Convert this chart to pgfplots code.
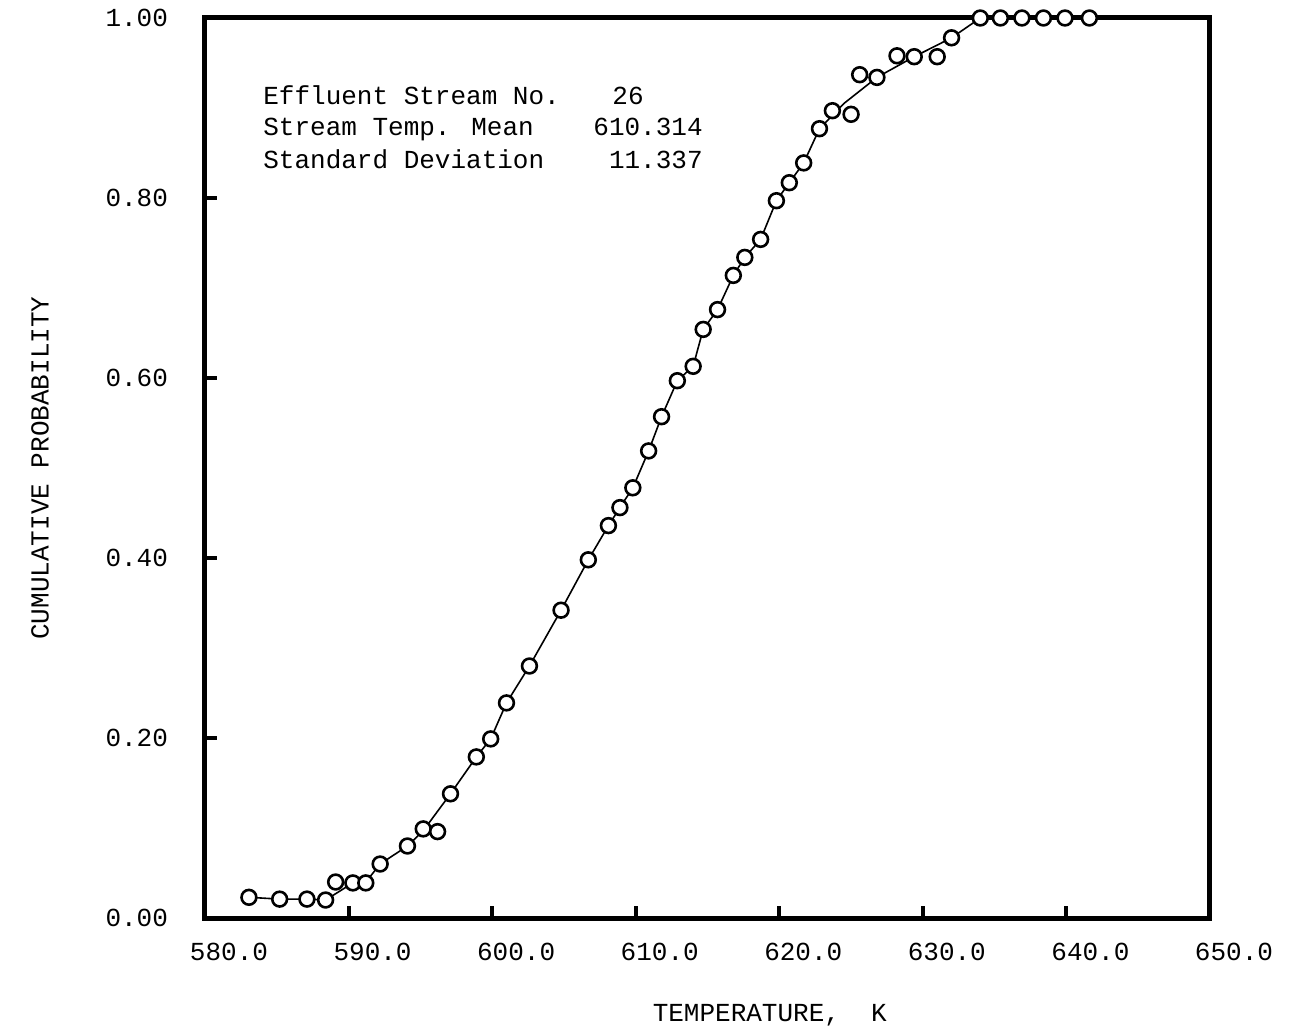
\documentclass[border=0pt]{standalone}
\usepackage{fontspec}
\setmainfont{Liberation Mono}
\usepackage{pgfplots}
\pgfplotsset{compat=1.18}
\begin{document}
\begin{tikzpicture}[x=1pt,y=1pt]
\useasboundingbox (-102.5pt,-56pt) rectangle (543pt,459pt);
\begin{axis}[
  at={(0,0)}, anchor=south west,
  scale only axis, width=502.5pt, height=450pt,
  xmin=580, xmax=650, ymin=0, ymax=1,
  xtick={580,590,...,650}, ytick={0,0.2,0.4,0.6,0.8,1.0},
  tick pos=left, tick align=inside,
  major tick length=6pt,
  tick style={line width=2pt, black},
  axis line style={line width=2.5pt},
  /pgf/number format/assume math mode=true,
  xticklabel style={xshift=12pt, /pgf/number format/.cd, fixed, fixed zerofill, precision=1},
  yticklabel style={/pgf/number format/.cd, fixed, fixed zerofill, precision=2},
  ticklabel style={font=\fontsize{13}{15}\selectfont},
  xticklabel shift=9pt, yticklabel shift=15pt,
  clip=false,
]
\addplot[black, line width=0.8pt, mark=none] coordinates {
(583.06,0.023) (585.2,0.021) (587.1,0.021) (588.4,0.020) (590.3,0.039) (591.2,0.040)
(592.2,0.060) (594.1,0.080) (595.2,0.097) (597.1,0.138) (598.9,0.179) (599.9,0.199)
(601.0,0.239) (602.6,0.280) (604.8,0.342) (606.7,0.398) (608.1,0.436) (608.9,0.456)
(609.8,0.478) (610.9,0.519) (611.8,0.557) (612.9,0.597) (614.0,0.613) (614.7,0.654)
(615.7,0.676) (616.8,0.714) (617.6,0.734) (618.7,0.754) (619.8,0.797) (620.7,0.817)
(621.7,0.839) (622.8,0.877) (624.5,0.905) (626.8,0.934) (629.4,0.957) (632.0,0.978)
(634.0,1.0) (641.6,1.0)
};
\addplot[only marks, mark=*, mark size=3.7pt, mark options={fill=white, draw=black, line width=1.3pt}] coordinates {
(583.06,0.023) (585.2,0.021) (587.1,0.021) (588.4,0.020) (589.1,0.040) (590.3,0.039)
(591.2,0.039) (592.2,0.060) (594.1,0.080) (595.2,0.099) (596.2,0.096) (597.1,0.138)
(598.9,0.179) (599.9,0.199) (601.0,0.239) (602.6,0.280) (604.8,0.342) (606.7,0.398)
(608.1,0.436) (608.9,0.456) (609.8,0.478) (610.9,0.519) (611.8,0.557) (612.9,0.597)
(614.0,0.613) (614.7,0.654) (615.7,0.676) (616.8,0.714) (617.6,0.734) (618.7,0.754)
(619.8,0.797) (620.7,0.817) (621.7,0.839) (622.8,0.877) (623.7,0.897) (625.0,0.893)
(625.6,0.937) (626.8,0.934) (628.2,0.958) (629.4,0.957) (631.0,0.957) (632.0,0.978)
(634.0,1.0) (635.4,1.0) (636.9,1.0) (638.4,1.0) (639.9,1.0) (641.6,1.0)
};
\node[anchor=base west, font=\fontsize{13}{15}\selectfont, inner sep=0pt] at (axis cs:584.04,0.904) {Effluent Stream No.};
\node[anchor=base west, font=\fontsize{13}{15}\selectfont, inner sep=0pt] at (axis cs:584.04,0.869) {Stream Temp. Mean};
\node[anchor=base west, font=\fontsize{13}{15}\selectfont, inner sep=0pt] at (axis cs:584.04,0.833) {Standard Deviation};
\node[anchor=base west, font=\fontsize{13}{15}\selectfont, inner sep=0pt] at (axis cs:608.35,0.904) {26};
\node[anchor=base east, font=\fontsize{13}{15}\selectfont, inner sep=0pt] at (axis cs:614.69,0.869) {610.314};
\node[anchor=base east, font=\fontsize{13}{15}\selectfont, inner sep=0pt] at (axis cs:614.69,0.833) {11.337};
\node[rotate=90, anchor=center, font=\fontsize{13}{15}\selectfont] at ([xshift=-82.5pt]rel axis cs:0,0.5) {CUMULATIVE PROBABILITY};
\node[anchor=center, font=\fontsize{13}{15}\selectfont] at ([yshift=-48.5pt]rel axis cs:0.562,0) {TEMPERATURE,\ \ K};
\end{axis}
\end{tikzpicture}
\end{document}
